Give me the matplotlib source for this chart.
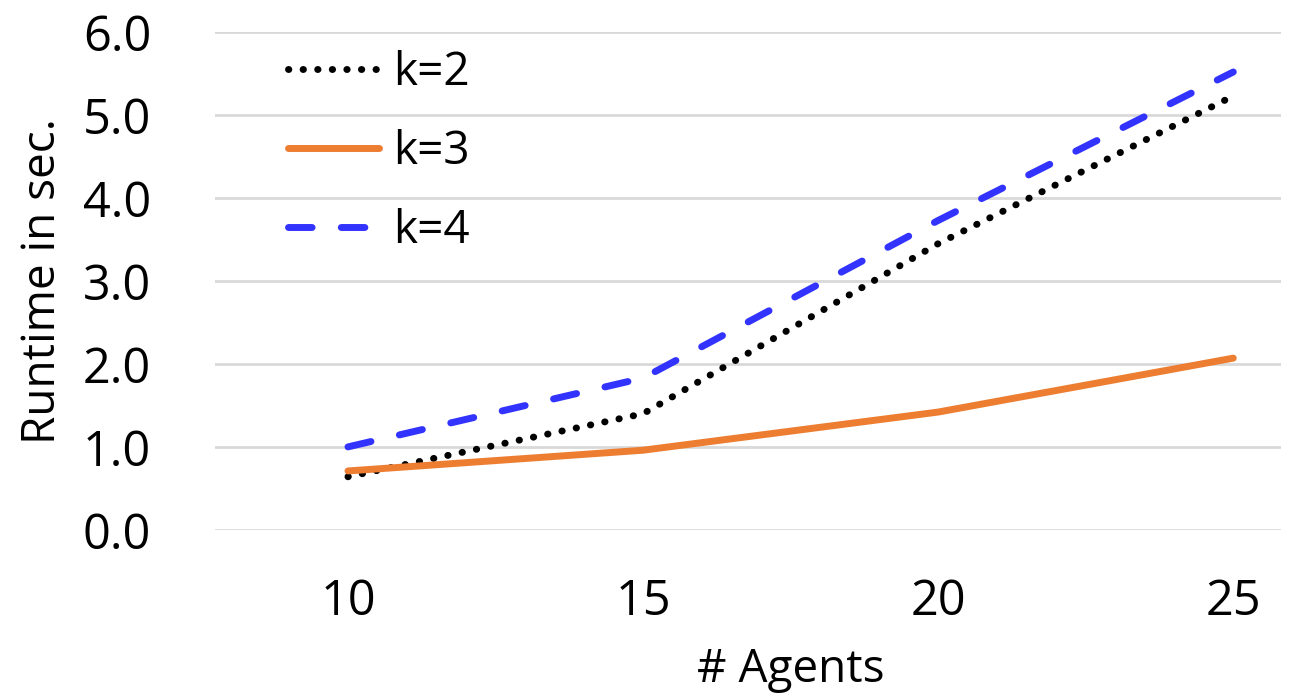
import matplotlib.pyplot as plt
import numpy as np

plt.rcParams['font.family'] = ['Open Sans', 'DejaVu Sans']

agents = [10, 15, 20, 25]
k2 = [0.64, 1.40, 3.45, 5.23]
k3 = [0.71, 0.96, 1.42, 2.07]
k4 = [1.00, 1.83, 3.73, 5.52]
yticks = [0.0, 1.0, 2.0, 3.0, 4.0, 5.0, 6.0]

fig = plt.figure(figsize=(13.12, 6.99), dpi=100)
ax = fig.add_axes([0.164, 0.242, 0.812, 0.712])

ax.plot(agents, k2, color='black', linestyle=(0, (0.05, 2.05)), linewidth=5,
        dash_capstyle='round', label='k=2')
ax.plot(agents, k3, color='#ED7D31', linewidth=5, solid_capstyle='round', label='k=3')
ax.plot(agents, k4, color='#3333FF', linestyle=(0, (3.4, 4.2)), linewidth=5,
        dash_capstyle='round', label='k=4')

ax.set_ylim(0, 6)
ax.set_xlim(7.75, 25.8)
ax.set_yticks(yticks)
ax.set_yticklabels([f'{v:.1f}' for v in yticks])
ax.set_xticks(agents)
ax.tick_params(axis='both', length=0, labelsize=35)
ax.tick_params(axis='y', pad=46)
ax.tick_params(axis='x', pad=34)
ax.grid(axis='y', color='#D9D9D9', linewidth=2)
ax.set_axisbelow(True)
for s in ax.spines.values():
    s.set_visible(False)

ax.set_xlabel('# Agents', fontsize=33, labelpad=12)
ax.xaxis.set_label_coords(0.54, -0.235)
ax.set_ylabel('Runtime in sec.', fontsize=33, labelpad=12)

ax.legend(loc='upper left', frameon=False, fontsize=33, handlelength=2.0,
          labelspacing=0.72, borderpad=0, borderaxespad=0, handletextpad=0.3,
          bbox_to_anchor=(0.068, 0.965))

fig.savefig('out.png', dpi=100)
